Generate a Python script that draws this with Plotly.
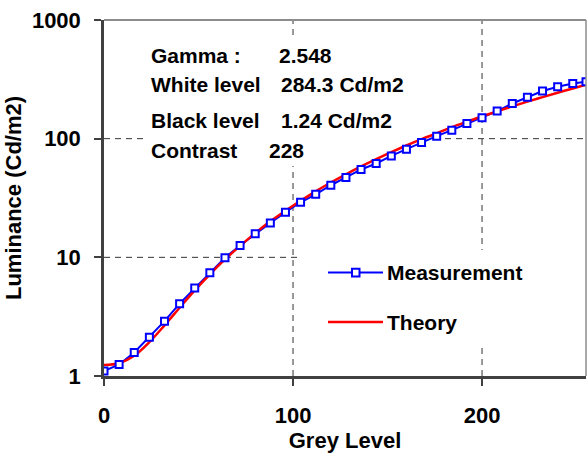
import math
import plotly.graph_objects as go

# Grey levels at which the panel was measured
grey_level = [0, 8, 16, 24, 32, 40, 48, 56, 64, 72, 80, 88, 96, 104, 112, 120,
              128, 136, 144, 152, 160, 168, 176, 184, 192, 200, 208, 216, 224,
              232, 240, 248, 255]

# Measured luminance (Cd/m2)
measured = [1.10, 1.25, 1.58, 2.12, 2.90, 4.07, 5.51, 7.43, 9.94, 12.6, 15.8,
            19.5, 24.0, 29.1, 34.0, 40.5, 47.1, 55.0, 61.8, 71.6, 81.5, 92.9,
            105, 118, 134, 150, 171, 198, 223, 252, 274, 292, 302]

# Gamma-law model luminance (Cd/m2)
theory = [1.24, 1.28, 1.48, 1.93, 2.67, 3.76, 5.26, 7.19, 9.60, 12.5, 16.0,
          20.1, 24.7, 30.0, 36.0, 42.7, 50.1, 58.3, 67.2, 77.0, 87.6, 99.0,
          111, 125, 139, 154, 170, 187, 205, 224, 244, 265, 284.3]

x_ticks = [0, 100, 200]
y_ticks = [1, 10, 100, 1000]
x_range = [0, 255]
y_decades = [0, 3]

info_names = ["Gamma :", "White level", "Black level", "Contrast"]
info_values = ["2.548", "284.3 Cd/m2", "1.24 Cd/m2", "228"]

W, H = 587, 453
L, R, T, B = 104, 586, 20, 376
FONT = "Liberation Sans, Arial, sans-serif"
GRID = "#333333"


def px(x):
    return (x - L) / (R - L)


def py(y):
    return (B - y) / (B - T)


fig = go.Figure()

fig.add_trace(go.Scatter(
    x=grey_level, y=measured, mode="lines",
    line=dict(color="#0000ff", width=2), showlegend=False, hoverinfo="skip"))
fig.add_trace(go.Scatter(
    x=grey_level, y=theory, mode="lines", line_shape="spline",
    line=dict(color="#ff0000", width=2.5), name="Theory", showlegend=False))
fig.add_trace(go.Scatter(
    x=grey_level, y=measured, mode="markers", name="Measurement",
    marker=dict(symbol="square", size=7, color="white",
                line=dict(color="#0000ff", width=2)),
    showlegend=False))

shapes = []
# dashed grid, drawn under the white text/key boxes
for xv in x_ticks[1:]:
    shapes.append(dict(type="line", xref="x", yref="paper", layer="below",
                       x0=xv, x1=xv, y0=0, y1=1,
                       line=dict(color=GRID, width=1, dash="6px,5px")))
for yv in y_ticks[1:-1]:
    yp = (math.log10(yv) - y_decades[0]) / (y_decades[1] - y_decades[0])
    shapes.append(dict(type="line", xref="paper", yref="paper", layer="below",
                       x0=0, x1=1, y0=yp, y1=yp,
                       line=dict(color=GRID, width=1, dash="6px,5px")))
# white backing boxes for the info text and the key
shapes.append(dict(type="rect", xref="paper", yref="paper", layer="below",
                   x0=px(146), x1=px(438), y0=py(166), y1=py(38),
                   fillcolor="white", line=dict(width=0)))
shapes.append(dict(type="rect", xref="paper", yref="paper", layer="below",
                   x0=px(298), x1=px(585), y0=py(345), y1=py(250),
                   fillcolor="white", line=dict(width=0)))
# plot frame (top and right)
shapes.append(dict(type="line", xref="paper", yref="paper", x0=0, x1=1, y0=1, y1=1,
                   line=dict(color="#8c8c8c", width=2)))
shapes.append(dict(type="line", xref="paper", yref="paper", x0=1, x1=1, y0=0, y1=1,
                   line=dict(color="#8c8c8c", width=1.5)))
# key samples
shapes.append(dict(type="line", xref="paper", yref="paper",
                   x0=px(328), x1=px(383), y0=py(272.5), y1=py(272.5),
                   line=dict(color="#0000ff", width=2)))
shapes.append(dict(type="rect", xref="paper", yref="paper",
                   x0=px(352), x1=px(359.5), y0=py(276.5), y1=py(268.8),
                   fillcolor="white", line=dict(color="#0000ff", width=2)))
shapes.append(dict(type="line", xref="paper", yref="paper",
                   x0=px(328), x1=px(383), y0=py(322), y1=py(322),
                   line=dict(color="#ff0000", width=2.5)))

annotations = []
TXT = 21
rows_y = [55.5, 85, 121, 150.5]
val_x = [277, 279, 279, 267]
for name, val, yy, vx in zip(info_names, info_values, rows_y, val_x):
    annotations.append(dict(text="<b>%s</b>" % name, xref="paper", yref="paper",
                            x=px(149), y=py(yy), xanchor="left", yanchor="middle",
                            showarrow=False, font=dict(family=FONT, size=TXT, color="black")))
    annotations.append(dict(text="<b>%s</b>" % val, xref="paper", yref="paper",
                            x=px(vx), y=py(yy), xanchor="left", yanchor="middle",
                            showarrow=False, font=dict(family=FONT, size=TXT, color="black")))

for label, yy in [("Measurement", 272.5), ("Theory", 322)]:
    annotations.append(dict(text="<b>%s</b>" % label, xref="paper", yref="paper",
                            x=px(385), y=py(yy), xanchor="left", yanchor="middle",
                            showarrow=False, font=dict(family=FONT, size=TXT, color="black")))

fig.update_layout(
    width=W, height=H,
    margin=dict(l=L, r=W - R, t=T, b=H - B, autoexpand=False),
    paper_bgcolor="white", plot_bgcolor="white",
    font=dict(family=FONT, size=22, color="black"),
    shapes=shapes, annotations=annotations,
    xaxis=dict(
        range=x_range, tickvals=x_ticks, ticktext=["<b>%d</b>" % v for v in x_ticks],
        ticks="outside", ticklen=7, tickwidth=1.5, tickcolor="#404040",
        showline=True, linecolor="#404040", linewidth=2.5,
        showgrid=False, zeroline=False, ticklabelstandoff=11,
        title=dict(text="<b>Grey Level</b>", standoff=4,
                   font=dict(family=FONT, size=22)),
    ),
    yaxis=dict(
        type="log", range=y_decades, tickvals=y_ticks,
        ticktext=["<b>%d</b>" % v for v in y_ticks],
        ticks="outside", ticklen=7, tickwidth=1.5, tickcolor="#404040",
        showline=True, linecolor="#404040", linewidth=2.5,
        showgrid=False, zeroline=False, ticklabelstandoff=9,
        title=dict(text="<b>Luminance (Cd/m2)</b>", standoff=5,
                   font=dict(family=FONT, size=22)),
    ),
)

fig.write_html("out.html")
